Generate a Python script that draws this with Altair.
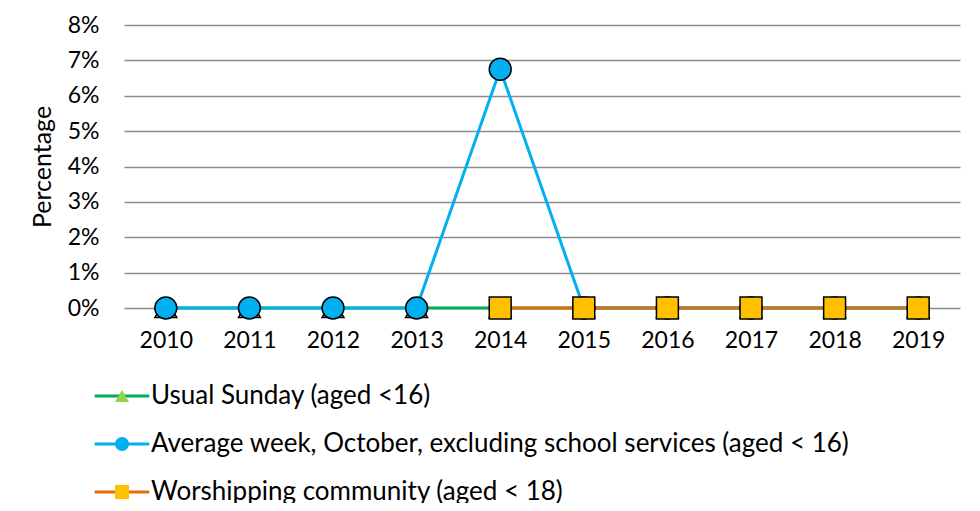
import altair as alt
import pandas as pd

years = ["2010", "2011", "2012", "2013", "2014", "2015", "2016", "2017", "2018", "2019"]
usual_sunday = [0, 0, 0, 0, 0, 0, 0, 0, 0, 0]
average_week = [0, 0, 0, 0, 0.0675, 0, 0, 0, 0, 0]
worshipping = [None, None, None, None, 0, 0, 0, 0, 0, 0]

series_names = [
    "Usual Sunday (aged <16)",
    "Average week, October, excluding school services (aged < 16)",
    "Worshipping community (aged < 18)",
]
line_colors = ["#00B050", "#00B0F0", "#E46C0A"]
fill_colors = ["#92D050", "#00B0F0", "#FFC000"]
shapes = ["triangle-up", "circle", "square"]

# marker keys differ from series names so that Vega-Lite keeps two separate legends
marker_keys = [n + " " for n in series_names]

rows = []
for name, key, vals in zip(series_names, marker_keys, [usual_sunday, average_week, worshipping]):
    for y, v in zip(years, vals):
        if v is not None:
            rows.append({"year": y, "value": v, "series": name, "marker": key})
df = pd.DataFrame(rows)

FONT = "Lato"
LX = -15
LY = 358
SYM = 196
LEG_FONT = 26
ROWPAD = 22

x = alt.X("year:N", sort=years,
          scale=alt.Scale(type="point", padding=0.5),
          axis=alt.Axis(title=None, labelAngle=0, ticks=False, domain=False,
                        labelFontSize=23, labelColor="black", labelPadding=21,
                        labelFont=FONT))
y = alt.Y("value:Q", scale=alt.Scale(domain=[0, 0.08], nice=False),
          axis=alt.Axis(title="Percentage", format=".0%",
                        values=[0, 0.01, 0.02, 0.03, 0.04, 0.05, 0.06, 0.07, 0.08],
                        ticks=False, domain=False, grid=True,
                        gridColor="#8C8C8C", gridWidth=1.5,
                        labelFontSize=23, labelColor="black", labelPadding=25,
                        titleFontSize=25, titleFontWeight="normal", titleColor="black",
                        titlePadding=12, labelFont=FONT, titleFont=FONT))

lines = alt.Chart(df).mark_line(strokeWidth=3).encode(
    x=x, y=y,
    stroke=alt.Stroke("series:N", sort=series_names,
                      scale=alt.Scale(domain=series_names, range=line_colors),
                      legend=alt.Legend(title=None, orient="none", direction="vertical",
                                        legendX=LX, legendY=LY, zindex=0,
                                        symbolType="M-3.9,0H3.9", symbolSize=SYM,
                                        symbolStrokeWidth=3,
                                        labelFontSize=LEG_FONT, labelFont=FONT,
                                        labelColor="black", labelOffset=16,
                                        labelLimit=900, rowPadding=ROWPAD)),
)

shape_legend = alt.Legend(title=None, orient="none", direction="vertical",
                          legendX=LX, legendY=LY, zindex=1,
                          symbolSize=SYM, symbolOpacity=1,
                          symbolStrokeColor="black", symbolStrokeWidth=1.5,
                          labelFontSize=LEG_FONT, labelFont=FONT,
                          labelOpacity=0, labelLimit=900, rowPadding=ROWPAD)

points = alt.Chart(df).mark_point(filled=True, size=480, opacity=1).encode(
    x=x, y=y,
    stroke=alt.value("black"),
    strokeWidth=alt.value(1.5),
    fill=alt.Fill("marker:N", sort=marker_keys,
                  scale=alt.Scale(domain=marker_keys, range=fill_colors),
                  legend=shape_legend),
    shape=alt.Shape("marker:N", sort=marker_keys,
                    scale=alt.Scale(domain=marker_keys, range=shapes),
                    legend=shape_legend),
)

chart = alt.layer(lines, points).properties(
    width=836, height=283,
    autosize=alt.AutoSizeParams(type="none"),
    padding={"left": 116, "top": 17, "right": 10, "bottom": 195},
    background="white",
).configure_view(stroke=None).configure_legend(padding=0, symbolStrokeColor="black")

chart.save("out.html", embed_options={"renderer": "svg", "actions": False})
